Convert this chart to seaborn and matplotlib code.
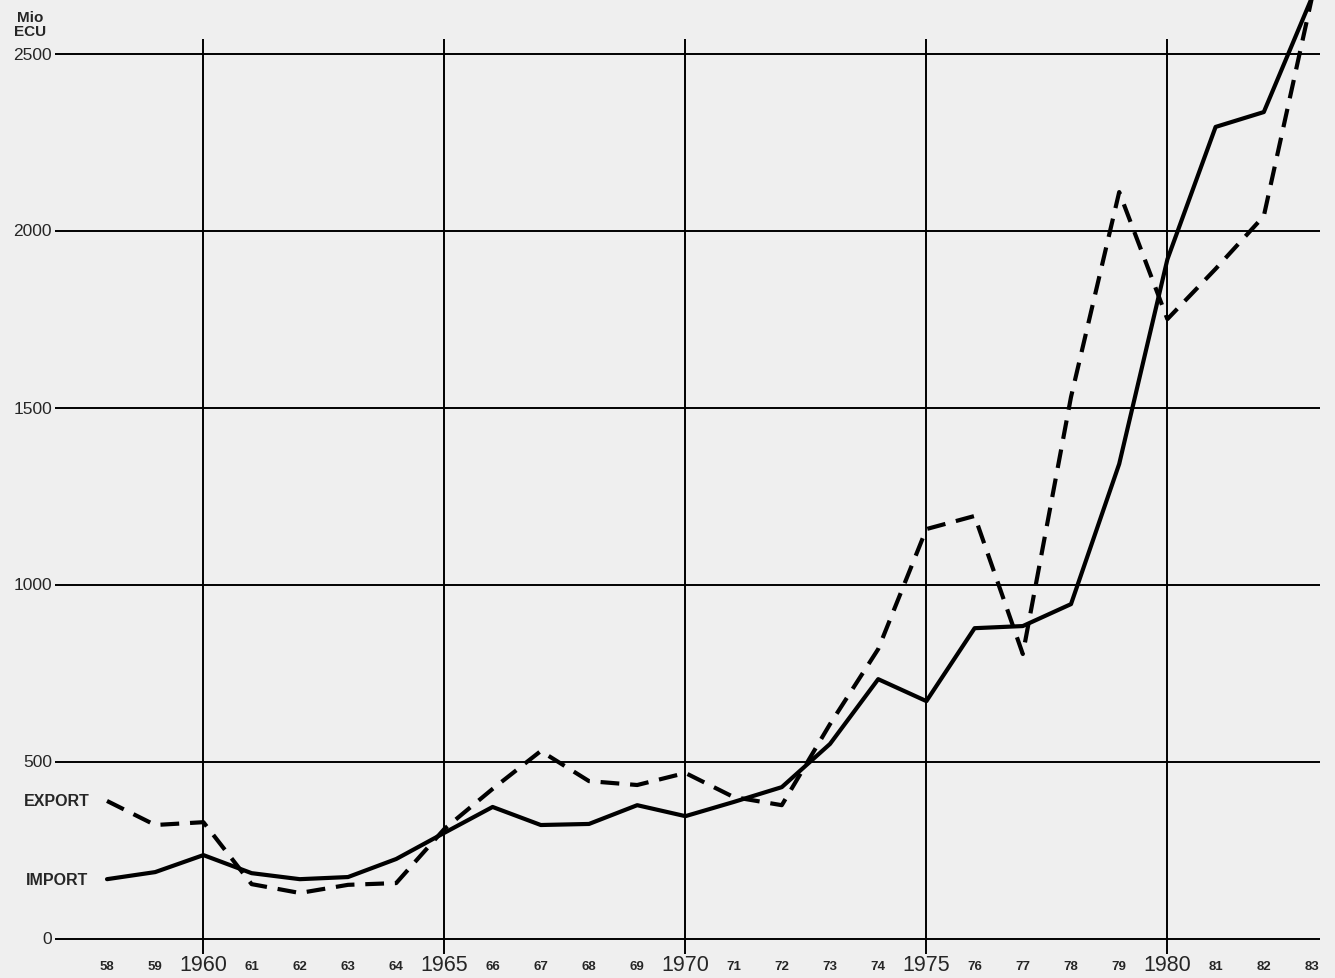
import numpy as np
import pandas as pd
import matplotlib
matplotlib.use("Agg")
import matplotlib.pyplot as plt
import seaborn as sns

# Data (Mio ECU)
years = list(range(1958, 1984))
imports = [169, 189, 237, 186, 169, 175, 226, 300, 373, 322, 325, 378, 347, 387, 429,
           551, 734, 672, 878, 884, 946, 1342, 1920, 2294, 2336, 2660]
exports = [390, 322, 330, 155, 130, 153, 158, 311, 424, 531, 446, 435, 469, 401, 378,
           607, 819, 1158, 1195, 805, 1531, 2110, 1751, 1893, 2042, 2660]
y_ticks = [0, 500, 1000, 1500, 2000, 2500]
major_years = [1960, 1965, 1970, 1975, 1980]

df = pd.DataFrame({"year": years, "import": imports, "export": exports})

sns.set_style("white")
plt.rcParams['font.family'] = ['Liberation Sans', 'DejaVu Sans']

fig = plt.figure(figsize=(13.35, 9.79), dpi=100, facecolor='#efefef')
ax = fig.add_axes([0, 0, 1, 1])
ax.set_facecolor('#efefef')

# frame in pixel terms: 48.2 px per year, 0.354 px per ECU
x0 = 1958 - 107 / 48.2
x1 = 1958 + (1335 - 107) / 48.2
ax.set_xlim(x0, x1)
ax.set_ylim((940 - 979) / 0.354, 940 / 0.354)
for s in ax.spines.values():
    s.set_visible(False)
ax.set_xticks([])
ax.set_yticks([])

# grid
gx0 = x0 + 55 / 48.2
gx1 = x0 + 1320 / 48.2
ax.hlines(y_ticks, gx0, gx1, color='black', lw=1.4, zorder=1)
ax.vlines(major_years, -42, 2542, color='black', lw=1.4, zorder=1)

# series
sns.lineplot(data=df, x="year", y="import", ax=ax, color='black', lw=3.0, zorder=3)
sns.lineplot(data=df, x="year", y="export", ax=ax, color='black', lw=3.0, zorder=3,
             dashes=False, linestyle=(0, (4.5, 2.6)))

# y labels
for v in y_ticks:
    ax.text(x0 + 52 / 48.2, v, str(v), ha='right', va='center', fontsize=12.5)
ax.text(x0 + 30 / 48.2, 940 / 0.354 - 25 / 0.354, "Mio\nECU", ha='center', va='center',
        fontsize=11, fontweight='bold', linespacing=0.95)

# x labels
for yr in years:
    if yr in major_years:
        ax.text(yr, -72, str(yr), ha='center', va='center', fontsize=15.5)
    else:
        ax.text(yr, -75, str(yr)[2:], ha='center', va='center', fontsize=9.5, fontweight='bold')

# series labels
ax.text(x0 + 24 / 48.2, exports[0], "EXPORT", ha='left', va='center', fontsize=11.5, fontweight='bold')
ax.text(x0 + 26 / 48.2, imports[0], "IMPORT", ha='left', va='center', fontsize=11.5, fontweight='bold')

ax.set_xlabel("")
ax.set_ylabel("")
fig.savefig("out.png", dpi=100, facecolor=fig.get_facecolor())
